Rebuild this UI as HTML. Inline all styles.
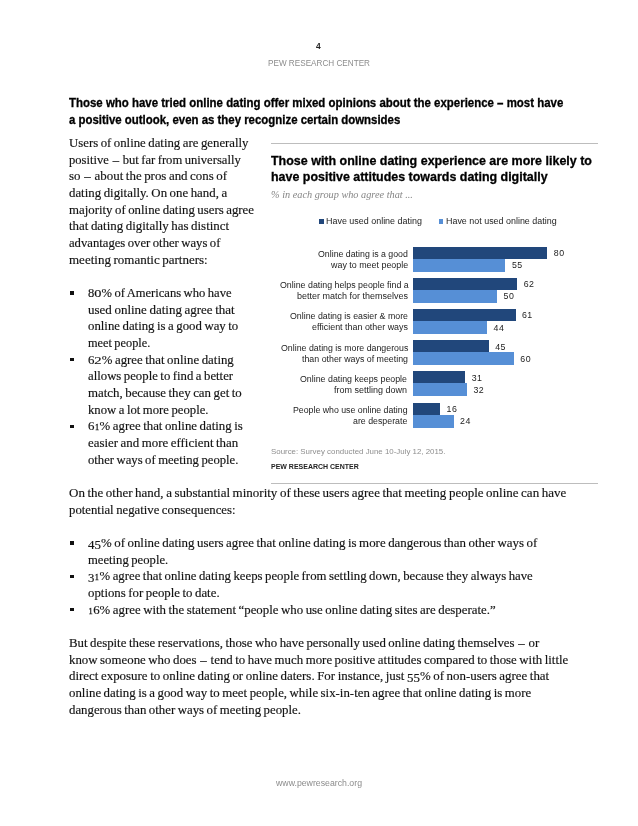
<!DOCTYPE html>
<html><head><meta charset="utf-8"><title>Pew Research Center</title>
<style>
html,body{margin:0;padding:0;background:#fff;}
#pg{will-change:transform;position:relative;width:638px;height:826px;overflow:hidden;background:#fff;}
.t{position:absolute;white-space:pre;transform-origin:0 0;}
.r{position:absolute;}
.oa{display:inline-block;transform:scale(1.14,0.71);transform-origin:50% 13.03px;margin:0 0.035em;}
.ob{font-size:0.65em;margin:0 0.06em;-webkit-text-stroke:0.3px #222;}
.oc{position:relative;top:0.14em;}
.nd{margin:0 0.1em;}
.head,.ctitle{-webkit-text-stroke:0.3px #000;}
.body{word-spacing:-0.7px;-webkit-text-stroke:0.18px #222;font-family:"Liberation Serif",serif;font-size:13.2px;font-weight:normal;font-style:normal;color:#111;letter-spacing:0px;line-height:17.16px;height:17.16px;}
.head{font-family:"Liberation Sans",sans-serif;font-size:12.2px;font-weight:bold;font-style:normal;color:#000;letter-spacing:0px;line-height:15.86px;height:15.86px;}
.ctitle{font-family:"Liberation Sans",sans-serif;font-size:12.6px;font-weight:bold;font-style:normal;color:#000;letter-spacing:0px;line-height:16.38px;height:16.38px;}
.csub{font-family:"Liberation Serif",serif;font-size:9.4px;font-weight:normal;font-style:italic;color:#858585;letter-spacing:0px;line-height:12.22px;height:12.22px;}
.pnum{font-family:"Liberation Sans",sans-serif;font-size:9.0px;font-weight:bold;font-style:normal;color:#222;letter-spacing:0px;line-height:11.7px;height:11.7px;}
.pew{font-family:"Liberation Sans",sans-serif;font-size:8.6px;font-weight:normal;font-style:normal;color:#8c8c8c;letter-spacing:0px;line-height:11.18px;height:11.18px;}
.foot{font-family:"Liberation Sans",sans-serif;font-size:8.6px;font-weight:normal;font-style:normal;color:#8c8c8c;letter-spacing:0px;line-height:11.18px;height:11.18px;}
.leg{font-family:"Liberation Sans",sans-serif;font-size:8.5px;font-weight:normal;font-style:normal;color:#1c1c1c;letter-spacing:0px;line-height:11.05px;height:11.05px;}
.cat{font-family:"Liberation Sans",sans-serif;font-size:8.5px;font-weight:normal;font-style:normal;color:#1c1c1c;letter-spacing:0px;line-height:11.05px;height:11.05px;}
.val{font-family:"Liberation Sans",sans-serif;font-size:8.8px;font-weight:normal;font-style:normal;color:#1c1c1c;letter-spacing:0.5px;line-height:11.44px;height:11.44px;}
.src{font-family:"Liberation Sans",sans-serif;font-size:7.9px;font-weight:normal;font-style:normal;color:#8e8e8e;letter-spacing:0px;line-height:10.27px;height:10.27px;}
.pewb{font-family:"Liberation Sans",sans-serif;font-size:7.8px;font-weight:bold;font-style:normal;color:#222;letter-spacing:0px;line-height:10.14px;height:10.14px;}
</style></head><body><div id="pg">
<div class="r" style="left:413.4px;top:246.50px;width:134.0px;height:12.1px;background:#21477b"></div>
<div class="r" style="left:413.4px;top:258.60px;width:92.1px;height:13.0px;background:#568fd6"></div>
<div class="r" style="left:413.4px;top:277.70px;width:103.9px;height:12.1px;background:#21477b"></div>
<div class="r" style="left:413.4px;top:289.80px;width:83.8px;height:13.0px;background:#568fd6"></div>
<div class="r" style="left:413.4px;top:308.90px;width:102.2px;height:12.1px;background:#21477b"></div>
<div class="r" style="left:413.4px;top:321.00px;width:73.7px;height:13.0px;background:#568fd6"></div>
<div class="r" style="left:413.4px;top:340.10px;width:75.4px;height:12.1px;background:#21477b"></div>
<div class="r" style="left:413.4px;top:352.20px;width:100.5px;height:13.0px;background:#568fd6"></div>
<div class="r" style="left:413.4px;top:371.30px;width:51.9px;height:12.1px;background:#21477b"></div>
<div class="r" style="left:413.4px;top:383.40px;width:53.6px;height:13.0px;background:#568fd6"></div>
<div class="r" style="left:413.4px;top:402.50px;width:26.8px;height:12.1px;background:#21477b"></div>
<div class="r" style="left:413.4px;top:414.60px;width:40.2px;height:13.0px;background:#568fd6"></div>
<div class="r" style="left:271px;top:143px;width:326.6px;height:1px;background:#bdbdbd"></div>
<div class="r" style="left:271px;top:482.6px;width:326.6px;height:1px;background:#bdbdbd"></div>
<div class="r" style="left:319.1px;top:219.0px;width:4.6px;height:4.6px;background:#21477b"></div>
<div class="r" style="left:438.7px;top:219.0px;width:4.6px;height:4.6px;background:#568fd6"></div>
<div class="r" style="left:70.3px;top:291.2px;width:3.4px;height:3.4px;background:#111"></div>
<div class="r" style="left:70.3px;top:357.9px;width:3.4px;height:3.4px;background:#111"></div>
<div class="r" style="left:70.3px;top:424.6px;width:3.4px;height:3.4px;background:#111"></div>
<div class="r" style="left:70.3px;top:541.3px;width:3.4px;height:3.4px;background:#111"></div>
<div class="r" style="left:70.3px;top:574.6px;width:3.4px;height:3.4px;background:#111"></div>
<div class="r" style="left:70.3px;top:608.0px;width:3.4px;height:3.4px;background:#111"></div>
<div class="t pnum" style="left:316.00px;top:40.93px;transform:scaleX(0.9371);">4</div>
<div class="t pew" style="left:268.20px;top:58.33px;transform:scaleX(0.9494);">PEW RESEARCH CENTER</div>
<div class="t head" style="left:69.30px;top:95.84px;transform:scaleX(0.9394);">Those who have tried online dating offer mixed opinions about the experience – most have</div>
<div class="t head" style="left:69.30px;top:112.84px;transform:scaleX(0.9371);">a positive outlook, even as they recognize certain downsides</div>
<div class="t body" style="left:69.40px;top:133.87px;transform:scaleX(0.9698);">Users of online dating are generally</div>
<div class="t body" style="left:69.40px;top:150.54px;transform:scaleX(0.9555);">positive <span class="nd">–</span> but far from universally</div>
<div class="t body" style="left:69.40px;top:167.22px;transform:scaleX(0.9792);">so <span class="nd">–</span> about the pros and cons of</div>
<div class="t body" style="left:69.40px;top:183.89px;transform:scaleX(0.9741);">dating digitally. On one hand, a</div>
<div class="t body" style="left:69.40px;top:200.57px;transform:scaleX(0.9725);">majority of online dating users agree</div>
<div class="t body" style="left:69.40px;top:217.24px;transform:scaleX(0.9792);">that dating digitally has distinct</div>
<div class="t body" style="left:69.40px;top:233.92px;transform:scaleX(0.9607);">advantages over other ways of</div>
<div class="t body" style="left:69.40px;top:250.59px;transform:scaleX(0.9859);">meeting romantic partners:</div>
<div class="t body" style="left:88.00px;top:283.94px;transform:scaleX(0.9538);">8<span class="oa">0</span>% of Americans who have</div>
<div class="t body" style="left:88.00px;top:300.61px;transform:scaleX(0.9858);">used online dating agree that</div>
<div class="t body" style="left:88.00px;top:317.29px;transform:scaleX(0.9705);">online dating is a good way to</div>
<div class="t body" style="left:88.00px;top:333.96px;transform:scaleX(0.9342);">meet people.</div>
<div class="t body" style="left:88.00px;top:350.64px;transform:scaleX(0.9738);">6<span class="oa">2</span>% agree that online dating</div>
<div class="t body" style="left:88.00px;top:367.31px;transform:scaleX(0.9676);">allows people to find a better</div>
<div class="t body" style="left:88.00px;top:383.99px;transform:scaleX(0.9758);">match, because they can get to</div>
<div class="t body" style="left:88.00px;top:400.67px;transform:scaleX(0.9639);">know a lot more people.</div>
<div class="t body" style="left:88.00px;top:417.34px;transform:scaleX(0.9742);">6<span class="ob">1</span>% agree that online dating is</div>
<div class="t body" style="left:88.00px;top:434.02px;transform:scaleX(0.9774);">easier and more efficient than</div>
<div class="t body" style="left:88.00px;top:450.69px;transform:scaleX(0.9610);">other ways of meeting people.</div>
<div class="t body" style="left:69.40px;top:484.04px;transform:scaleX(0.9850);">On the other hand, a substantial minority of these users agree that meeting people online can have</div>
<div class="t body" style="left:69.40px;top:500.71px;transform:scaleX(0.9671);">potential negative consequences:</div>
<div class="t body" style="left:88.00px;top:534.07px;transform:scaleX(0.9781);"><span class="oc">4</span><span class="oc">5</span>% of online dating users agree that online dating is more dangerous than other ways of</div>
<div class="t body" style="left:88.00px;top:550.74px;transform:scaleX(0.9601);">meeting people.</div>
<div class="t body" style="left:88.00px;top:567.42px;transform:scaleX(0.9689);"><span class="oc">3</span><span class="ob">1</span>% agree that online dating keeps people from settling down, because they always have</div>
<div class="t body" style="left:88.00px;top:584.09px;transform:scaleX(0.9728);">options for people to date.</div>
<div class="t body" style="left:88.00px;top:600.77px;transform:scaleX(0.9744);"><span class="ob">1</span>6% agree with the statement “people who use online dating sites are desperate.”</div>
<div class="t body" style="left:69.40px;top:634.12px;transform:scaleX(0.9724);">But despite these reservations, those who have personally used online dating themselves <span class="nd">–</span> or</div>
<div class="t body" style="left:69.40px;top:650.79px;transform:scaleX(0.9747);">know someone who does <span class="nd">–</span> tend to have much more positive attitudes compared to those with little</div>
<div class="t body" style="left:69.40px;top:667.47px;transform:scaleX(0.9797);">direct exposure to online dating or online daters. For instance, just <span class="oc">5</span><span class="oc">5</span>% of non-users agree that</div>
<div class="t body" style="left:69.40px;top:684.14px;transform:scaleX(0.9733);">online dating is a good way to meet people, while six-in-ten agree that online dating is more</div>
<div class="t body" style="left:69.40px;top:700.82px;transform:scaleX(0.9723);">dangerous than other ways of meeting people.</div>
<div class="t foot" style="left:276.30px;top:778.03px;transform:scaleX(1.0172);">www.pewresearch.org</div>
<div class="t ctitle" style="left:271.00px;top:152.74px;transform:scaleX(0.9906);">Those with online dating experience are more likely to</div>
<div class="t ctitle" style="left:271.00px;top:168.74px;transform:scaleX(0.9881);">have positive attitudes towards dating digitally</div>
<div class="t csub" style="left:271.30px;top:189.32px;transform:scaleX(1.0958);">% in each group who agree that ...</div>
<div class="t leg" style="left:325.70px;top:216.03px;transform:scaleX(1.0513);">Have used online dating</div>
<div class="t leg" style="left:445.80px;top:216.03px;transform:scaleX(1.0494);">Have not used online dating</div>
<div class="t cat" style="left:318.40px;top:248.93px;transform:scaleX(1.0339);">Online dating is a good</div>
<div class="t cat" style="left:331.10px;top:260.03px;transform:scaleX(1.0472);">way to meet people</div>
<div class="t val" style="left:553.80px;top:248.03px;">80</div>
<div class="t val" style="left:511.92px;top:260.13px;">55</div>
<div class="t cat" style="left:279.60px;top:280.13px;transform:scaleX(1.0393);">Online dating helps people find a</div>
<div class="t cat" style="left:297.30px;top:291.23px;transform:scaleX(1.0582);">better match for themselves</div>
<div class="t val" style="left:523.65px;top:279.23px;">62</div>
<div class="t val" style="left:503.55px;top:291.33px;">50</div>
<div class="t cat" style="left:290.30px;top:311.33px;transform:scaleX(1.0362);">Online dating is easier &amp; more</div>
<div class="t cat" style="left:312.30px;top:322.43px;transform:scaleX(1.0490);">efficient than other ways</div>
<div class="t val" style="left:521.97px;top:310.43px;">61</div>
<div class="t val" style="left:493.50px;top:322.53px;">44</div>
<div class="t cat" style="left:281.00px;top:342.53px;transform:scaleX(1.0361);">Online dating is more dangerous</div>
<div class="t cat" style="left:302.30px;top:353.63px;transform:scaleX(1.0386);">than other ways of meeting</div>
<div class="t val" style="left:495.17px;top:341.63px;">45</div>
<div class="t val" style="left:520.30px;top:353.73px;">60</div>
<div class="t cat" style="left:300.30px;top:373.73px;transform:scaleX(1.0385);">Online dating keeps people</div>
<div class="t cat" style="left:334.40px;top:384.83px;transform:scaleX(1.0568);">from settling down</div>
<div class="t val" style="left:471.72px;top:372.83px;">31</div>
<div class="t val" style="left:473.40px;top:384.93px;">32</div>
<div class="t cat" style="left:292.80px;top:404.93px;transform:scaleX(1.0310);">People who use online dating</div>
<div class="t cat" style="left:353.00px;top:416.03px;transform:scaleX(1.0352);">are desperate</div>
<div class="t val" style="left:446.60px;top:404.03px;">16</div>
<div class="t val" style="left:460.00px;top:416.13px;">24</div>
<div class="t src" style="left:271.40px;top:447.13px;transform:scaleX(0.9989);">Source: Survey conducted June 10-July 12, 2015.</div>
<div class="t pewb" style="left:271.40px;top:462.03px;transform:scaleX(0.8968);">PEW RESEARCH CENTER</div>
</div></body></html>
